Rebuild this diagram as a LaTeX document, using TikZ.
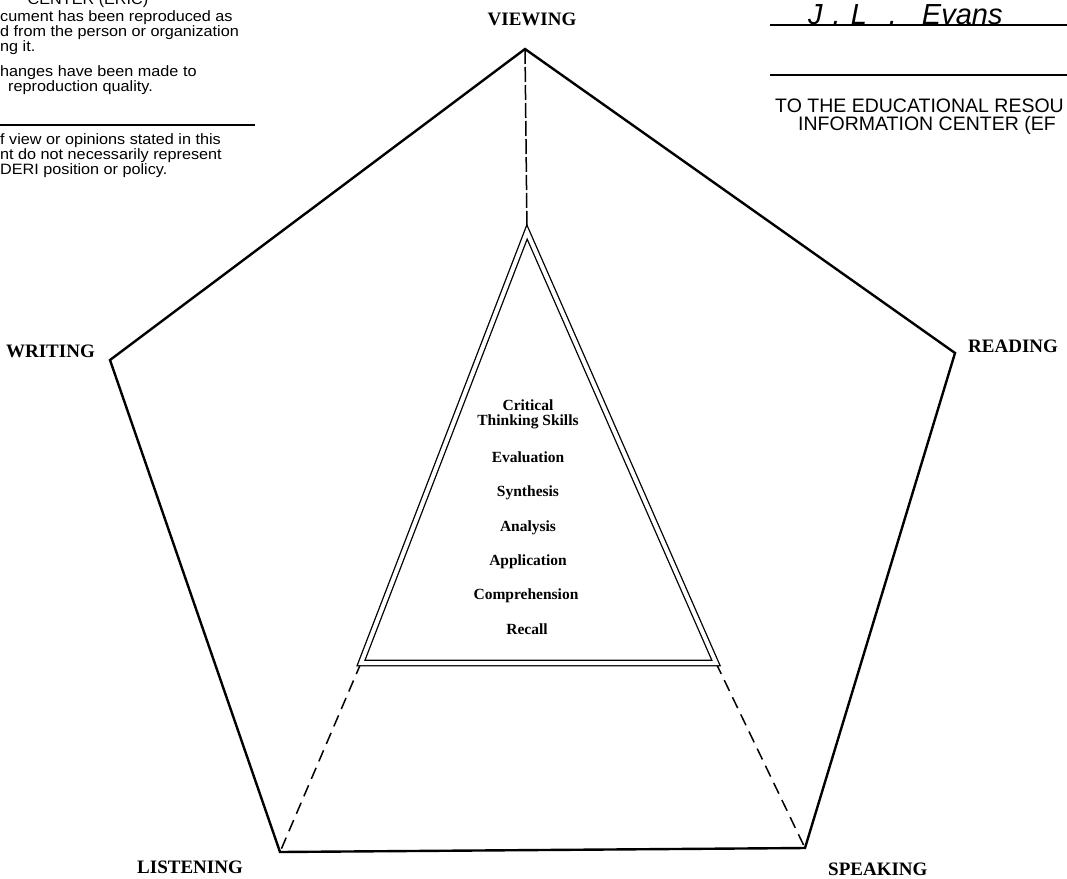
\documentclass[tikz,border=0pt]{standalone}
\usepackage{fontspec}
\setmainfont{Liberation Serif}
\newfontfamily\ericfont{Liberation Sans}
\newfontfamily\ericwide[FakeStretch=1.08]{Liberation Sans}

\tikzset{
  pentagon/.style={line width=2.4pt, line join=miter},
  dashline/.style={line width=1.5pt, dash pattern=on 12pt off 7pt},
  tri/.style={double, double distance=4pt, line width=1.3pt, line join=miter},
  corner/.style={font=\fontsize{19}{19}\selectfont\bfseries, inner sep=0pt},
  level/.style={font=\fontsize{15.5}{15}\selectfont\bfseries, anchor=base, inner sep=0pt},
  ericL/.style={font=\ericwide\fontsize{15}{14}\selectfont, anchor=base west, inner sep=0pt},
  ericR/.style={font=\ericfont\fontsize{19.5}{18}\selectfont, anchor=base west, inner sep=0pt},
}

\begin{document}
\begin{tikzpicture}[x=1pt, y=-1pt]  % 像素坐标, y 向下

    \clip (0,0) rectangle (1067,878);
    \fill[white] (0,0) rectangle (1067,878);

    % 五边形的五个顶点
    \coordinate (V) at (525,49);   % 上
    \coordinate (R) at (955,353);  % 右
    \coordinate (S) at (805,848);  % 右下
    \coordinate (L) at (280,852);  % 左下
    \coordinate (W) at (110,360);  % 左

    % 三角形的三个顶点
    \coordinate (T) at (527,232);
    \coordinate (B1) at (361,663);
    \coordinate (B2) at (716,663);

    % 绘制五边形
    \draw[pentagon] (V) -- (R) -- (S) -- (L) -- (W) -- cycle;

    % 绘制虚线
    \draw[dashline, dash pattern=on 15pt off 3pt] (V) -- (T);
    \draw[dashline] (B1) -- (L);
    \draw[dashline] (B2) -- (S);

    % 绘制双线三角形
    \draw[tri] (T) -- (B1) -- (B2) -- cycle;

    % 五个角的标签
    \node[corner, anchor=base] (viewing) at (532,25) {VIEWING};
    \node[corner, anchor=base west] (reading) at (968,352) {READING};
    \node[corner, anchor=base west] (speaking) at (828,875) {SPEAKING};
    \node[corner, anchor=base east] (listening) at (243,873) {LISTENING};
    \node[corner, anchor=base east] (writing) at (95,357) {WRITING};

    % 三角形内的层次
    \node[level, align=center] (critical) at (528,425) {Critical\\Thinking Skills};
    \node[level] (evaluation) at (528,462) {Evaluation};
    \node[level] (synthesis) at (528,496) {Synthesis};
    \node[level] (analysis) at (528,531) {Analysis};
    \node[level] (application) at (528,565) {Application};
    \node[level] (comprehension) at (526,599) {Comprehension};
    \node[level] (recall) at (527,634) {Recall};

    % 左上角的文字
    \node[ericL, anchor=base] (ericA) at (88,5) {CENTER (ERIC)};
    \node[ericL] (ericB) at (0,21) {cument has been reproduced as};
    \node[ericL] (ericC) at (0,36) {d from the person or organization};
    \node[ericL] (ericD) at (0,51) {ng it.};
    \node[ericL] (ericE) at (0,76) {hanges have been made to};
    \node[ericL] (ericF) at (8,91) {reproduction quality.};
    \draw[line width=1.3pt] (0,125) -- (255,125);
    \node[ericL] (ericG) at (0,144) {f view or opinions stated in this};
    \node[ericL] (ericH) at (0,159) {nt do not necessarily represent};
    \node[ericL] (ericI) at (0,174) {DERI position or policy.};

    % 右上角的签名和文字
    \node[font=\ericfont\itshape\fontsize{29}{29}\selectfont, anchor=base west, inner sep=0pt]
        (sign) at (808,24) {J\hspace{10pt}.\hspace{10pt}L\hspace{22pt}.\hspace{25pt}Evans};
    \draw[line width=1.3pt] (770,25) -- (1067,25);
    \draw[line width=1.3pt] (770,75) -- (1067,75);
    \node[ericR] (ericJ) at (775,112) {TO THE EDUCATIONAL RESOU};
    \node[ericR] (ericK) at (798,130) {INFORMATION CENTER (EF};

\end{tikzpicture}
\end{document}
